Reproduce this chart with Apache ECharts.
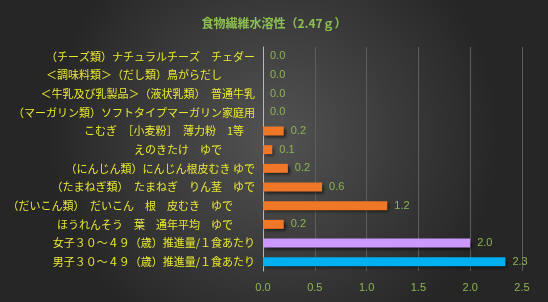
<!DOCTYPE html>
<html><head><meta charset="utf-8">
<script src="https://cdn.jsdelivr.net/npm/echarts@6/dist/echarts.min.js"></script>
<style>html,body{margin:0;padding:0;background:#333;}#c{width:548px;height:302px;}</style>
</head><body><div id="c"></div>
<script>
const titleText = '食物繊維水溶性（2.47ｇ）';
const categories = [
  '（チーズ類）ナチュラルチーズ　チェダー',
  '＜調味料類＞（だし類）鳥がらだし　　　',
  '＜牛乳及び乳製品＞（液状乳類）　普通牛乳',
  '（マーガリン類）ソフトタイプマーガリン家庭用',
  'こむぎ　［小麦粉］　薄力粉　1等　',
  'えのきたけ　ゆで　　　',
  '（にんじん類）にんじん根皮むき ゆで',
  '（たまねぎ類）　たまねぎ　りん茎　ゆで',
  '（だいこん類）　だいこん　根　皮むき　ゆで　　',
  'ほうれんそう　葉　通年平均　ゆで　　',
  '女子３０～４９（歳）推進量/１食あたり',
  '男子３０～４９（歳）推進量/１食あたり'
];
const values = [0, 0, 0, 0, 0.2, 0.09, 0.24, 0.57, 1.2, 0.2, 2.0, 2.34];
const kinds = ['food','food','food','food','food','food','food','food','food','food','female','male'];
const xTicks = [0, 0.5, 1.0, 1.5, 2.0, 2.5];

const kindColor = {food: '#f07628', female: '#cc99ff', male: '#00b0f0'};
const chart = echarts.init(document.getElementById('c'));
chart.setOption({
  animation: false,
  backgroundColor: {
    type: 'radial', x: 0.5, y: 0.45, r: 0.75,
    colorStops: [{offset: 0, color: '#535353'}, {offset: 1, color: '#262626'}]
  },
  title: {
    text: titleText, left: 'center', top: 12,
    textStyle: {color: '#8cc152', fontSize: 12, fontWeight: 'bold', fontFamily: 'Noto Sans CJK JP'}
  },
  grid: {left: 263, right: 26, top: 47, bottom: 31, containLabel: false},
  xAxis: {
    type: 'value', min: xTicks[0], max: xTicks[xTicks.length - 1], interval: 0.5,
    axisLine: {show: false}, axisTick: {show: false},
    splitLine: {show: true, lineStyle: {color: '#5e5e5e', width: 1}},
    axisLabel: {color: '#8db553', fontSize: 11, margin: 11, fontFamily: 'Liberation Sans',
      formatter: v => v.toFixed(1)}
  },
  yAxis: {
    type: 'category', data: categories, inverse: true,
    axisLine: {show: true, lineStyle: {color: '#b8b8b8', width: 1}},
    axisTick: {show: false},
    axisLabel: {color: '#e8e832', fontSize: 11, margin: 8, fontFamily: 'Noto Sans CJK JP'}
  },
  series: [{
    type: 'bar', barWidth: 9,
    data: values.map((v, i) => ({value: v, itemStyle: {color: kindColor[kinds[i]]}})),
    itemStyle: {shadowColor: 'rgba(0,0,0,0.6)', shadowBlur: 3, shadowOffsetX: 2, shadowOffsetY: 2},
    label: {show: true, position: 'right', distance: 7, color: '#8db553', fontSize: 11,
      fontFamily: 'Liberation Sans', formatter: p => p.value.toFixed(1)}
  }]
});
</script></body></html>
